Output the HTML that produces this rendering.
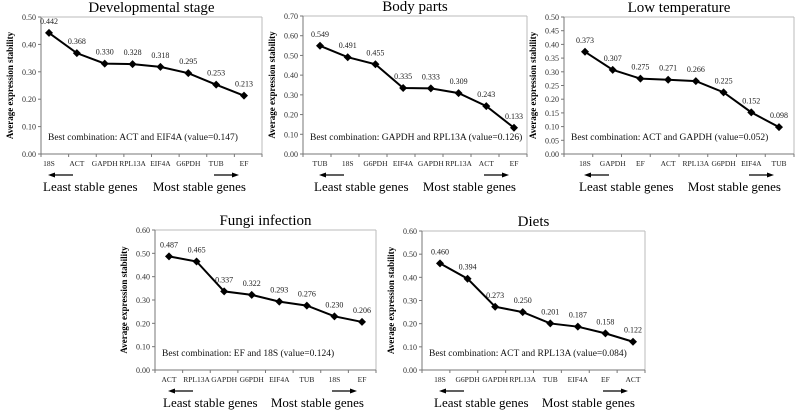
<!DOCTYPE html>
<html><head><meta charset="utf-8"><style>
html,body{margin:0;padding:0;background:#fff;}
svg, svg text{font-family:"Liberation Serif","Times New Roman",serif;}
</style></head><body>
<svg id="c" width="796" height="410" viewBox="0 0 796 410" xmlns="http://www.w3.org/2000/svg" font-family="Liberation Serif, serif"></svg>
<script>
const devCats=["18S","ACT","GAPDH","RPL13A","EIF4A","G6PDH","TUB","EF"];
const devVals=[0.442,0.368,0.330,0.328,0.318,0.295,0.253,0.213];
const devTicks=["0.00","0.10","0.20","0.30","0.40","0.50"];
const bodyCats=["TUB","18S","G6PDH","EIF4A","GAPDH","RPL13A","ACT","EF"];
const bodyVals=[0.549,0.491,0.455,0.335,0.333,0.309,0.243,0.133];
const bodyTicks=["0.00","0.10","0.20","0.30","0.40","0.50","0.60","0.70"];
const lowCats=["18S","GAPDH","EF","ACT","RPL13A","G6PDH","EIF4A","TUB"];
const lowVals=[0.373,0.307,0.275,0.271,0.266,0.225,0.152,0.098];
const lowTicks=["0.00","0.05","0.10","0.15","0.20","0.25","0.30","0.35","0.40","0.45","0.50"];
const fungiCats=["ACT","RPL13A","GAPDH","G6PDH","EIF4A","TUB","18S","EF"];
const fungiVals=[0.487,0.465,0.337,0.322,0.293,0.276,0.230,0.206];
const fungiTicks=["0.00","0.10","0.20","0.30","0.40","0.50","0.60"];
const dietCats=["18S","G6PDH","GAPDH","RPL13A","TUB","EIF4A","EF","ACT"];
const dietVals=[0.460,0.394,0.273,0.250,0.201,0.187,0.158,0.122];
const dietTicks=["0.00","0.10","0.20","0.30","0.40","0.50","0.60"];

const panels=[
 {name:"developmental-stage",title:"Developmental stage",cats:devCats,vals:devVals,ticks:devTicks,best:"Best combination: ACT and EIF4A (value=0.147)",L:41,R:262,T:17,B:154,p0:49,p1:244},
 {name:"body-parts",title:"Body parts",cats:bodyCats,vals:bodyVals,ticks:bodyTicks,best:"Best combination: GAPDH and RPL13A (value=0.126)",L:303,R:527,T:16,B:154,p0:320,p1:514},
 {name:"low-temperature",title:"Low temperature",cats:lowCats,vals:lowVals,ticks:lowTicks,best:"Best combination: ACT and GAPDH (value=0.052)",L:564,R:794,T:17,B:154,p0:585,p1:779},
 {name:"fungi-infection",title:"Fungi infection",cats:fungiCats,vals:fungiVals,ticks:fungiTicks,best:"Best combination: EF and 18S (value=0.124)",L:155,R:376,T:230,B:370,p0:169,p1:362},
 {name:"diets",title:"Diets",cats:dietCats,vals:dietVals,ticks:dietTicks,best:"Best combination: ACT and RPL13A (value=0.084)",L:422,R:645,T:231,B:370,p0:440,p1:633}
];
const NS="http://www.w3.org/2000/svg";
const FF="'Liberation Serif', 'Times New Roman', serif";
const svg=document.getElementById('c');
function mk(tag,attrs,parent,text){const e=document.createElementNS(NS,tag);for(const k in attrs)e.setAttribute(k,attrs[k]);if(text!==undefined){e.textContent=text;e.setAttribute('font-family',FF);}parent.appendChild(e);return e;}
panels.forEach(p=>{
 const g=mk('g',{},svg);
 
 
 const maxV=parseFloat(p.ticks[p.ticks.length-1]);
 const y=v=>p.B-(v/maxV)*(p.B-p.T);
 const n=p.cats.length;
 const x=i=>p.p0+i*(p.p1-p.p0)/(n-1);
 const cx=(p.L+p.R)/2;
 const t=mk('text',{x:cx,y:p.T-5,'text-anchor':'middle','font-size':'15'},g,p.title);
 
 
 mk('line',{x1:p.L,y1:p.T,x2:p.R,y2:p.T,stroke:'#bbb','stroke-width':1},g);
 mk('line',{x1:p.R,y1:p.T,x2:p.R,y2:p.B,stroke:'#bbb','stroke-width':1},g);
 const ya=mk('line',{x1:p.L,y1:p.T,x2:p.L,y2:p.B,stroke:'#777','stroke-width':1},g);
 
 
 const xa=mk('line',{x1:p.L,y1:p.B,x2:p.R,y2:p.B,stroke:'#777','stroke-width':1},g);
 
 
 p.ticks.forEach(tk=>{
  const yy=y(parseFloat(tk));
  mk('line',{x1:p.L-3,y1:yy,x2:p.L,y2:yy,stroke:'#777'},g);
  const tl=mk('text',{x:p.L-5,y:yy+3,'text-anchor':'end','font-size':'8',fill:'#333'},g,tk);
  
  
 });
 const yt=mk('text',{x:0,y:0,'text-anchor':'middle','font-size':'9','font-weight':'bold',transform:`translate(${p.L-28},${(p.T+p.B)/2}) rotate(-90)`},g,'Average expression stability');
 
 
 const step=(p.R-p.L)/n;
 for(let i=0;i<=n;i++){const xx=p.L+i*step;mk('line',{x1:xx,y1:p.B,x2:xx,y2:p.B+3,stroke:'#777'},g);}
 p.cats.forEach((c,i)=>{
  const cl=mk('text',{x:x(i),y:p.B+12,'text-anchor':'middle','font-size':'7.5',fill:'#222'},g,c);
  
  
 });
 const pts=p.vals.map((v,i)=>x(i)+','+y(v)).join(' ');
 const ln=mk('polyline',{points:pts,fill:'none',stroke:'#000','stroke-width':2},g);
 
 
 p.vals.forEach((v,i)=>{
  const px=x(i),py=y(v);
  const m=mk('polygon',{points:`${px},${py-4} ${px+4},${py} ${px},${py+4} ${px-4},${py}`,fill:'#000'},g);
  
  
  const vl=mk('text',{x:px,y:py-9,'text-anchor':'middle','font-size':'8',fill:'#222'},g,v.toFixed(3));
  
  
 });
 const bc=mk('text',{x:p.L+7,y:p.B-14,'font-size':'9.5',fill:'#111'},g,p.best);
 
 
 const ay=p.B+21;
 const la=mk('g',{},g);
 
 
 mk('line',{x1:p.p0+2,y1:ay,x2:p.p0+24,y2:ay,stroke:'#000','stroke-width':1.2},la);
 mk('polygon',{points:`${p.p0-1},${ay} ${p.p0+6},${ay-2.5} ${p.p0+6},${ay+2.5}`,fill:'#000'},la);
 const ra=mk('g',{},g);
 
 
 mk('line',{x1:p.p1-30,y1:ay,x2:p.p1-8,y2:ay,stroke:'#000','stroke-width':1.2},ra);
 mk('polygon',{points:`${p.p1-5},${ay} ${p.p1-12},${ay-2.5} ${p.p1-12},${ay+2.5}`,fill:'#000'},ra);
 const lt=mk('text',{x:p.p0-6,y:p.B+37,'font-size':'13'},g,'Least stable genes');
 
 
 const mt=mk('text',{x:p.p1+2,y:p.B+37,'font-size':'13','text-anchor':'end'},g,'Most stable genes');
 
 
});
</script>
</body></html>
